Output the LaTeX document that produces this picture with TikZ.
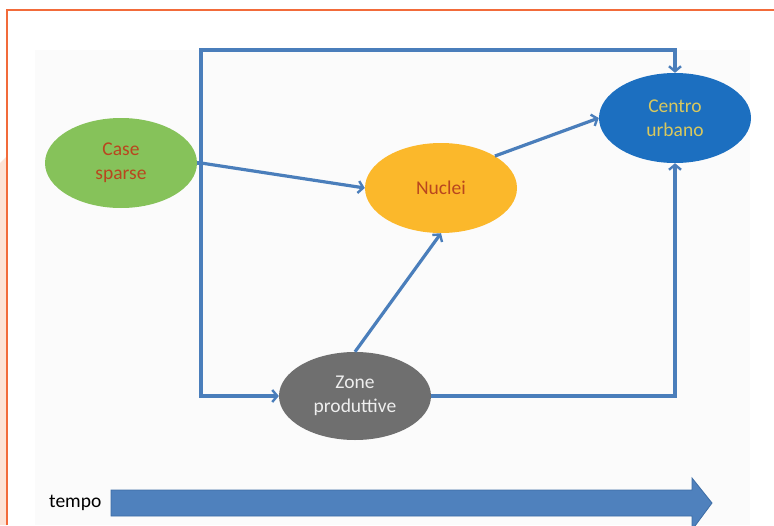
\documentclass[tikz,border=0pt]{standalone}
\usepackage{fontspec}
\setmainfont{Carlito}
\usetikzlibrary{arrows.meta,shapes.geometric}
\definecolor{frameor}{HTML}{F26B3A}
\definecolor{pinkbg}{HTML}{FDE3D6}
\definecolor{panel}{HTML}{FBFBFB}
\definecolor{conn}{HTML}{4A7EBB}
\definecolor{cgreen}{HTML}{86C25A}
\definecolor{corange}{HTML}{FBB82B}
\definecolor{cblue}{HTML}{1C6FC0}
\definecolor{cgray}{HTML}{6F6F6F}
\definecolor{tred}{HTML}{B9461E}
\definecolor{tyel}{HTML}{D8C85E}
\definecolor{tgray}{HTML}{EEEEEE}
\definecolor{arrfill}{HTML}{4F81BD}
\definecolor{arrline}{HTML}{3D6DA5}
\tikzset{
  blob/.style={ellipse, minimum width=152pt, minimum height=90pt, inner sep=0pt,
    align=center, font=\fontsize{19.5}{24}\selectfont},
  link/.style={draw=conn, line width=3.2pt, -{Straight Barb[length=5pt,width=12pt,line width=2.4pt]}},
  plain/.style={draw=conn, line width=3.2pt},
}
\begin{document}
\begin{tikzpicture}[x=1pt,y=-1pt]
\useasboundingbox (0,0) rectangle (774,525);
\fill[white] (0,0) rectangle (774,525);
\fill[pinkbg] (0,163) -- (7,156) -- (7,525) -- (0,525) -- cycle;
\fill[panel] (35,50) rectangle (750,525);
\draw[frameor, line width=1.4pt] (7,525) -- (7,10) -- (774,10);

\node[blob, fill=cgreen, text=tred] (cs) at (121,163) {Case\\sparse};
\node[blob, fill=corange, text=tred] (nu) at (441,188) {Nuclei};
\node[blob, fill=cblue, text=tyel] (cu) at (675,118) {Centro\\urbano};
\node[blob, fill=cgray, text=tgray, minimum height=88pt] (zp) at (355,396) {Zone\\produttive};

\coordinate (j) at (201,163);
\coordinate (tl) at (201,50);
\coordinate (bl) at (201,396);
\draw[plain] (cs.east) -- (j);
\draw[link] (j) -- (tl) -| (cu.north);
\draw[link] (j) -- (bl) -- (zp.west);
\draw[link] (j) -- (nu.west);
\draw[link] (nu.north east) -- (cu.west);
\draw[link] (zp.north) -- (nu.south);
\draw[link] (zp.east) -| (cu.south);

\node[anchor=west, font=\fontsize{19.5}{24}\selectfont, inner sep=0pt] (tp) at (49,503) {tempo};
\coordinate (ta) at (111,503);
\filldraw[fill=arrfill, draw=arrline, line width=0.8pt]
  (ta) ++(0,-13) -- ++(581,0) -- ++(0,-12) -- (712,503) -- (692,530) -- (692,516) -- (111,516) -- cycle;
\end{tikzpicture}
\end{document}
